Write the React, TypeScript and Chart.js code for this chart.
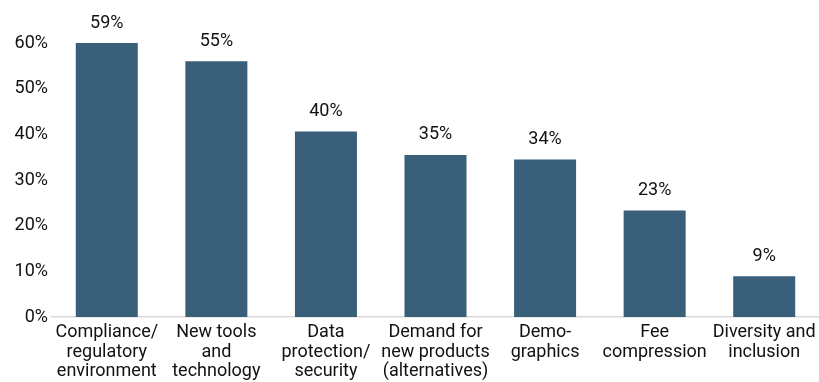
import React, { useEffect, useRef } from "react";
import { Chart, registerables } from "chart.js";

Chart.register(...registerables);

const categories: string[][] = [
  ["Compliance/", "regulatory", "environment"],
  ["New tools", "and", "technology"],
  ["Data", "protection/", "security"],
  ["Demand for", "new products", "(alternatives)"],
  ["Demo-", "graphics"],
  ["Fee", "compression"],
  ["Diversity and", "inclusion"],
];
const barHeights: number[] = [60.0, 56.0, 40.6, 35.5, 34.5, 23.3, 8.9];
const valueLabels: string[] = ["59%", "55%", "40%", "35%", "34%", "23%", "9%"];
const yTicks: number[] = [0, 10, 20, 30, 40, 50, 60];

const BAR_COLOR = "#3A5F7A";
const TEXT_COLOR = "#111111";
const FONT = "Roboto";

export default function App() {
  const ref = useRef<HTMLCanvasElement | null>(null);

  useEffect(() => {
    if (!ref.current) return;
    const labelPlugin = {
      id: "valueLabels",
      afterDatasetsDraw(chart: any) {
        const ctx = chart.ctx;
        const meta = chart.getDatasetMeta(0);
        ctx.save();
        ctx.font = `18px ${FONT}`;
        ctx.fillStyle = TEXT_COLOR;
        ctx.textAlign = "center";
        ctx.textBaseline = "middle";
        meta.data.forEach((bar: any, i: number) => {
          ctx.fillText(valueLabels[i], bar.x, bar.y - 20);
        });
        ctx.restore();
      },
    };
    const chart = new Chart(ref.current, {
      type: "bar",
      data: {
        labels: categories,
        datasets: [
          {
            data: barHeights,
            backgroundColor: BAR_COLOR,
            borderWidth: 0,
            categoryPercentage: 1,
            barPercentage: 0.566,
          },
        ],
      },
      options: {
        animation: false,
        responsive: false,
        maintainAspectRatio: false,
        layout: { padding: { top: 43, right: 0, left: 0, bottom: 0 } },
        plugins: {
          legend: { display: false },
          tooltip: { enabled: false },
        },
        scales: {
          x: {
            grid: { display: false, drawTicks: false },
            border: { display: true, color: "#d9d9d9", width: 1.5 },
            ticks: {
              autoSkip: false,
              maxRotation: 0,
              minRotation: 0,
              padding: 6,
              color: TEXT_COLOR,
              font: { family: FONT, size: 18, lineHeight: 1.08 },
            },
            afterFit: (scale: any) => {
              scale.height = 65;
              scale.paddingLeft = 0;
              scale.paddingRight = 0;
            },
          },
          y: {
            min: 0,
            max: 60,
            grid: { display: false, drawTicks: false },
            border: { display: false },
            afterBuildTicks: (scale: any) => {
              scale.ticks = yTicks.map((v) => ({ value: v }));
            },
            ticks: {
              padding: 4,
              color: TEXT_COLOR,
              font: { family: FONT, size: 18 },
              callback: (v: any) => `${v}%`,
            },
            afterFit: (scale: any) => {
              scale.width = 52;
            },
          },
        },
      },
      plugins: [labelPlugin],
    });
    return () => chart.destroy();
  }, []);

  return (
    <div style={{ position: "absolute", left: 0, top: 0, width: 819, height: 382, background: "#fff" }}>
      <canvas ref={ref} width={819} height={382} style={{ display: "block" }} />
    </div>
  );
}
